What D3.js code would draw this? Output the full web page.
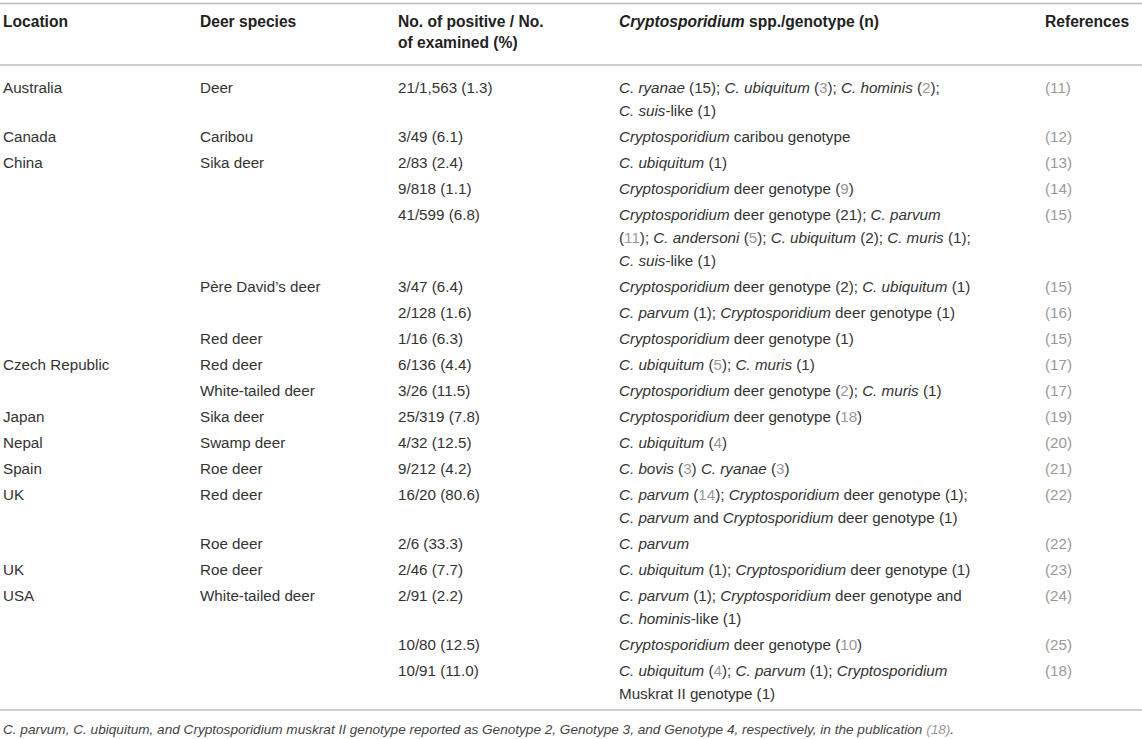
<!DOCTYPE html>
<html>
<head>
<meta charset="utf-8">
<script src="https://cdn.jsdelivr.net/npm/d3@7/dist/d3.min.js"></script>
<style>
  body { margin: 0; background: #fff; }
  svg text { font-family: "Liberation Sans", Arial, sans-serif; }
</style>
</head>
<body>
<div id="root"></div>
<script>
// table content, one array per column ("|" = line break, *..* italic, [..] grey link)
const headers = [
  "Location",
  "Deer species",
  "No. of positive / No.|of examined (%)",
  "*Cryptosporidium* spp./genotype (n)",
  "References"
];

const locations = ["Australia", "Canada", "China", "", "", "", "", "", "Czech Republic", "",
  "Japan", "Nepal", "Spain", "UK", "", "UK", "USA", "", ""];

const species = ["Deer", "Caribou", "Sika deer", "", "", "Père David’s deer", "", "Red deer",
  "Red deer", "White-tailed deer", "Sika deer", "Swamp deer", "Roe deer", "Red deer", "Roe deer",
  "Roe deer", "White-tailed deer", "", ""];

const ratios = ["21/1,563 (1.3)", "3/49 (6.1)", "2/83 (2.4)", "9/818 (1.1)", "41/599 (6.8)",
  "3/47 (6.4)", "2/128 (1.6)", "1/16 (6.3)", "6/136 (4.4)", "3/26 (11.5)", "25/319 (7.8)",
  "4/32 (12.5)", "9/212 (4.2)", "16/20 (80.6)", "2/6 (33.3)", "2/46 (7.7)", "2/91 (2.2)",
  "10/80 (12.5)", "10/91 (11.0)"];

const genotypes = [
  "*C. ryanae* (15); *C. ubiquitum* ([3]); *C. hominis* ([2]);|*C. suis*-like (1)",
  "*Cryptosporidium* caribou genotype",
  "*C. ubiquitum* (1)",
  "*Cryptosporidium* deer genotype ([9])",
  "*Cryptosporidium* deer genotype (21); *C. parvum*|([11]); *C. andersoni* ([5]); *C. ubiquitum* (2); *C. muris* (1);|*C. suis*-like (1)",
  "*Cryptosporidium* deer genotype (2); *C. ubiquitum* (1)",
  "*C. parvum* (1); *Cryptosporidium* deer genotype (1)",
  "*Cryptosporidium* deer genotype (1)",
  "*C. ubiquitum* ([5]); *C. muris* (1)",
  "*Cryptosporidium* deer genotype ([2]); *C. muris* (1)",
  "*Cryptosporidium* deer genotype ([18])",
  "*C. ubiquitum* ([4])",
  "*C. bovis* ([3]) *C. ryanae* ([3])",
  "*C. parvum* ([14]); *Cryptosporidium* deer genotype (1);|*C. parvum* and *Cryptosporidium* deer genotype (1)",
  "*C. parvum*",
  "*C. ubiquitum* (1); *Cryptosporidium* deer genotype (1)",
  "*C. parvum* (1); *Cryptosporidium* deer genotype and|*C. hominis*-like (1)",
  "*Cryptosporidium* deer genotype ([10])",
  "*C. ubiquitum* ([4]); *C. parvum* (1); *Cryptosporidium*|Muskrat II genotype (1)"
];

const refs = ["[(11)]", "[(12)]", "[(13)]", "[(14)]", "[(15)]", "[(15)]", "[(16)]", "[(15)]",
  "[(17)]", "[(17)]", "[(19)]", "[(20)]", "[(21)]", "[(22)]", "[(22)]", "[(23)]", "[(24)]",
  "[(25)]", "[(18)]"];

const footnote = "*C. parvum, C. ubiquitum, and Cryptosporidium muskrat II genotype reported as Genotype 2, Genotype 3, and Genotype 4, respectively, in the publication* [*(18)*]*.*";

const W = 1142, H = 739;
const colX = [3, 200, 398, 619, 1045];
const textColor = "#333";
const linkColor = "#999";
const ruleColor = "#bdbdbd";

const svg = d3.select("#root")
    .append("svg")
    .attr("width", W)
    .attr("height", H);

// split "*a* b [c]" into styled pieces
function parse(str) {
    const out = [];
    const re = /\[\*([^*]+)\*\]|\*([^*]+)\*|\[([^\]]+)\]|([^*\[]+)/g;
    let m;
    while ((m = re.exec(str)) !== null) {
        if (m[1]) out.push({ t: m[1], it: true, grey: true });
        else if (m[2]) out.push({ t: m[2], it: true, grey: false });
        else if (m[3]) out.push({ t: m[3], it: false, grey: true });
        else out.push({ t: m[4], it: false, grey: false });
    }
    return out;
}

function drawCell(g, str, x, y, lineH, opts) {
    const lines = str.split("|");
    lines.forEach((ln, i) => {
        const t = g.append("text")
            .attr("x", x)
            .attr("y", y + i * lineH)
            .attr("dy", "0.35em")
            .attr("font-size", opts.size)
            .attr("font-weight", opts.bold ? "bold" : "normal")
            .attr("fill", opts.color || textColor)
            .attr("xml:space", "preserve");
        t.selectAll("tspan")
            .data(parse(ln))
            .join("tspan")
            .attr("font-style", d => d.it ? "italic" : "normal")
            .attr("fill", d => d.grey ? linkColor : (opts.color || textColor))
            .text(d => d.t);
    });
    return lines.length;
}

// rules
const rules = [3.5, 65, 710];
svg.selectAll("line.rule")
    .data(rules)
    .join("line")
    .attr("class", "rule")
    .attr("x1", 0)
    .attr("x2", W)
    .attr("y1", d => d)
    .attr("y2", d => d)
    .attr("stroke", ruleColor)
    .attr("stroke-width", 1.5);

// header
const head = svg.append("g");
headers.forEach((h, i) => drawCell(head, h, colX[i], 22, 21, { size: 15.6, bold: true, color: "#222" }));

// body rows
const body = svg.append("g");
const rowPitch = 26, lineH = 23;
let y = 88;
for (let r = 0; r < ratios.length; r++) {
    const cols = [locations[r], species[r], ratios[r], genotypes[r], refs[r]];
    let n = 1;
    cols.forEach((c, i) => {
        if (!c) return;
        n = Math.max(n, drawCell(body, c, colX[i], y, lineH, { size: 15.2 }));
    });
    y += rowPitch + lineH * (n - 1);
}

// footnote
drawCell(svg.append("g"), footnote, 3, 729, 18, { size: 13.6, color: "#444" });
</script>
</body>
</html>
